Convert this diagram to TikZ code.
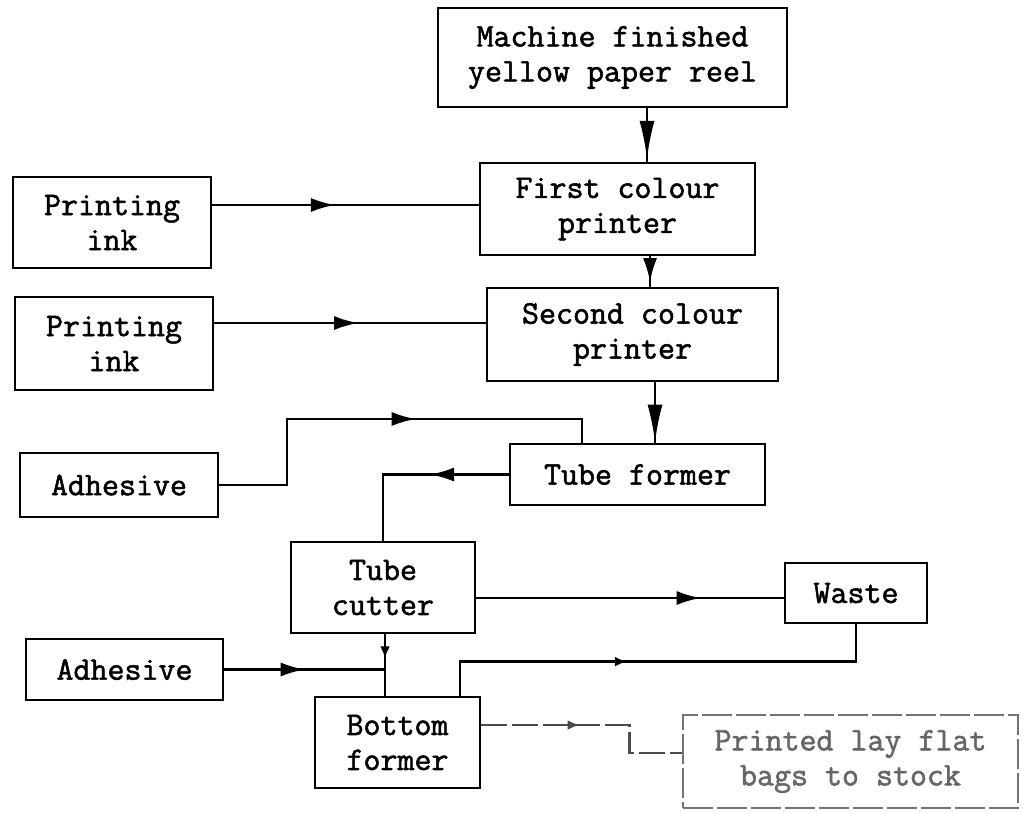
\documentclass[tikz,border=0pt]{standalone}
\usepackage{fontspec}
\setmonofont{Latin Modern Mono}[AutoFakeBold=1.6]
\usetikzlibrary{arrows.meta, decorations.markings}

\begin{document}
\begin{tikzpicture}[
    x=1pt, y=-1pt,
    >=Latex,
    font=\ttfamily\bfseries\fontsize{33}{35}\selectfont,
    stepbox/.style={
        draw=black, line width=2.8pt, align=center,
        inner sep=0pt
    },
    faintbox/.style={
        stepbox, draw=black!55, text=black!60,
        dash pattern=on 30pt off 4pt
    },
    flow/.style={line width=2.4pt, black},
    faintflow/.style={flow, black!70, dash pattern=on 26pt off 5pt},
    midarrow/.style={postaction={decorate}, decoration={markings,
        mark=at position #1 with {\arrow{Latex[length=24pt, width=14pt]}}}},
    longarrow/.style={postaction={decorate}, decoration={markings,
        mark=at position #1 with {\arrow{Latex[length=38pt, width=15pt]}}}},
    dotarrow/.style={postaction={decorate}, decoration={markings,
        mark=at position #1 with {\arrow{Latex[length=12pt, width=10pt]}}}},
]
\useasboundingbox (0,0) rectangle (1030,812);

% === process chain ===
\node[stepbox, minimum width=349pt, minimum height=99pt] (reel) at (612.5,57.5)
    {Machine finished\\yellow paper reel};
\node[stepbox, minimum width=275pt, minimum height=92pt] (fp) at (617.5,209)
    {First colour\\printer};
\node[stepbox, minimum width=291pt, minimum height=93pt] (sp) at (632.5,334.5)
    {Second colour\\printer};
\node[stepbox, minimum width=255pt, minimum height=61pt] (tf) at (637.5,474.5)
    {Tube former};
\node[stepbox, minimum width=184pt, minimum height=91pt] (tc) at (383,587.5)
    {Tube\\cutter};
\node[stepbox, minimum width=165pt, minimum height=91pt] (bf) at (397.5,742.5)
    {Bottom\\former};

% === inputs ===
\node[stepbox, minimum width=198pt, minimum height=91pt] (ink1) at (112,222.5)
    {Printing\\ink};
\node[stepbox, minimum width=198pt, minimum height=93pt] (ink2) at (114,343.5)
    {Printing\\ink};
\node[stepbox, minimum width=198pt, minimum height=64pt] (adh1) at (119,485)
    {Adhesive};
\node[stepbox, minimum width=197pt, minimum height=61pt] (adh2) at (124.5,669.5)
    {Adhesive};

% === outputs ===
\node[stepbox, minimum width=142pt, minimum height=60pt] (waste) at (856,593)
    {Waste};
\node[faintbox, minimum width=335pt, minimum height=93pt] (stock) at (850.5,761.5)
    {Printed lay flat\\bags to stock};

% === main line ===
\draw[flow, longarrow=0.95] ([xshift=34.5pt]reel.south) coordinate (r1) -- (r1 |- fp.north);
\draw[flow, midarrow=0.85] ([xshift=32.5pt]fp.south) coordinate (f1) -- (f1 |- sp.north);
\draw[flow, longarrow=1] ([xshift=22.5pt]sp.south) coordinate (s1) -- (s1 |- tf.north);

% === inks ===
\draw[flow, midarrow=0.46] ([yshift=17.5pt]ink1.east) coordinate (i1) -- (i1 -| fp.west);
\draw[flow, midarrow=0.53] ([yshift=20.5pt]ink2.east) coordinate (i2) -- (i2 -| sp.west);

% === adhesive to tube former ===
\coordinate (adhbend) at (287,419);
\draw[flow, midarrow=0.58] (adh1.east) -| (adhbend) -| ([xshift=-55.5pt]tf.north);

% === tube former to cutter ===
\draw[flow, midarrow=0.41] (tf.west) -| (tc.north);

% === cutter outputs ===
\draw[flow, midarrow=0.73] ([yshift=-10.5pt]tc.east) coordinate (c1) -- (c1 -| waste.west);
\coordinate (join) at (385,668);
\draw[flow, dotarrow=0.39] (tc.south -| join) -- (join |- bf.north);
\draw[flow, midarrow=0.5] (adh2.east) -- (adh2.east -| join);

% === bottom former outputs ===
\draw[flow, dotarrow=0.43] ([xshift=62.5pt]bf.north) -- ++(0,-34) -| (waste.south);
\draw[faintflow, dotarrow=0.43] ([yshift=17.5pt]bf.east) -- ++(148,0)
    |- ([yshift=8.5pt]stock.west);

\end{tikzpicture}
\end{document}
